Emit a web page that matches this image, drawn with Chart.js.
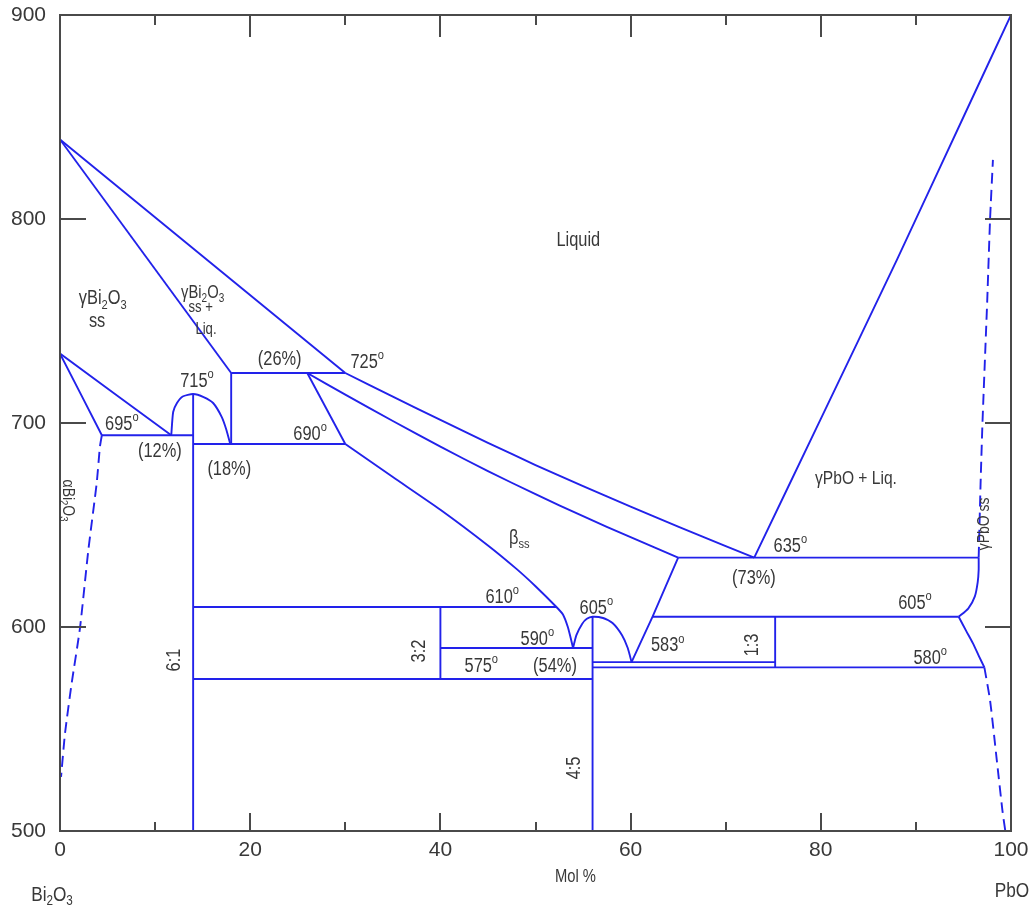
<!DOCTYPE html>
<html>
<head>
<meta charset="utf-8">
<script src="https://cdn.jsdelivr.net/npm/chart.js@4.4.1/dist/chart.umd.min.js"></script>
<style>
  html, body { margin: 0; padding: 0; background: #fff; }
  #wrap { width: 1033px; height: 911px; }
</style>
</head>
<body>
<div id="wrap"><canvas id="phaseChart" width="1033" height="911"></canvas></div>
<script>
// Bi2O3 - PbO phase diagram (x = mol % PbO, y = deg C)

// liquidus / solidus of the gamma-Bi2O3 side
const liquidusBi   = [[0, 839], [30, 724.5]];
const solidusGamma = [[0, 839], [18, 724.5]];
const line725      = [[18, 724.5], [30, 724.5]];
const vert18       = [[18, 724.5], [18, 689.7]];
const liquidusMid  = [[30, 724.5], [35, 712.9], [40, 701.5], [45, 690.3], [50, 679.4], [55, 669], [60, 659], [65, 649.2], [70, 639.6], [73, 634]];
const betaUpper    = [[26, 724.5], [30, 713.9], [35, 701], [40, 688.4], [45, 676.4], [50, 665.1], [55, 654.3], [60, 644], [65, 634]];
const betaLowerTop = [[26, 724.5], [30, 689.7]];
const betaLower    = [[30, 689.7], [35, 673.5], [40, 657.5], [45, 640], [48, 628.5], [50, 620], [52.2, 609.8], [52.9, 606], [53.4, 600], [53.7, 594.6], [53.95, 589.7]];
const dome605      = [[53.95, 589.7], [54.3, 596], [54.9, 601.5], [55.4, 604], [56, 605], [57.1, 604.4], [58.1, 602], [59.1, 596], [59.7, 589.7], [60.1, 582.8]];
const riseRight    = [[60.1, 582.8], [62.3, 605], [65, 634]];
const line635      = [[65, 634], [96.6, 634]];
const liquidusPbO  = [[73, 634], [80, 702], [88, 780], [95, 850], [100, 900]];

// gamma-Bi2O3 eutectoid corner
const eutLeftA = [[0, 734], [4.4, 694]];
const eutLeftB = [[0, 734], [11.7, 694]];
const line695  = [[4.4, 694], [14, 694]];
const line690  = [[14, 689.7], [30, 689.7]];
const dome715  = [[11.7, 694], [11.9, 705.4], [12.3, 709.8], [12.9, 713], [14, 714.2], [15.1, 712.7], [16.1, 709.8], [17, 703], [17.5, 696.6], [17.9, 689.7]];

// compounds and invariant lines
const comp61  = [[14, 714.2], [14, 500]];
const line610 = [[14, 609.8], [52.2, 609.8]];
const comp32  = [[40, 609.8], [40, 574.5]];
const line590 = [[40, 589.7], [56, 589.7]];
const line575 = [[14, 574.5], [56, 574.5]];
const comp45  = [[56, 605], [56, 500]];
const line583 = [[56, 582.8], [75.2, 582.8]];
const line580 = [[56, 580.2], [97.2, 580.2]];
const comp13  = [[75.2, 605], [75.2, 580.2]];
const line605 = [[62.3, 605], [94.5, 605]];

// gamma-PbO solid solution edges
const pbSsUpper = [[94.5, 605], [95.5, 609], [96.2, 615], [96.5, 622], [96.6, 628], [96.6, 634]];
const pbSsLower = [[94.5, 605], [95.3, 598], [96, 592], [96.6, 586], [97.2, 580.2]];

// dashed (estimated) boundaries
const biSsDash      = [[4.4, 694], [4.2, 688.4], [3.86, 670.6], [2.98, 637.7], [2.1, 599.5], [1.23, 572.5], [0.53, 548], [0.11, 526.5]];
const pbSsUpperDash = [[96.6, 634], [96.8, 670], [97, 700], [97.5, 760], [97.8, 800], [98.1, 829]];
const pbSsLowerDash = [[97.2, 580.2], [97.8, 564], [98.5, 535], [99.1, 510], [99.4, 500]];

// axes
const xRange = [0, 100];
const yRange = [500, 900];
const xMajorTicks = [20, 40, 60, 80];
const xMinorTicks = [10, 30, 50, 70, 90];
const yTicks = [600, 700, 800];

// text in the diagram: [text, x, y, size, rotation]   ^{..} superscript, _{..} subscript
const diagramLabels = [
    ['Liquid', 54.5, 789.7, 20, 0],
    ['γBi_{2}O_{3}', 4.5, 760.8, 20, 0],
    ['ss', 3.9, 749.8, 20, 0],
    ['γBi_{2}O_{3}', 15.0, 763.5, 18, 0],
    ['ss +', 14.8, 756.6, 16, 0],
    ['Liq.', 15.35, 746, 16, 0],
    ['(26%)', 23.1, 731.1, 20, 0],
    ['725^{o}', 32.3, 729.9, 20, 0],
    ['715^{o}', 14.4, 720.3, 20, 0],
    ['695^{o}', 6.5, 699.5, 20, 0],
    ['(12%)', 10.5, 686, 20, 0],
    ['690^{o}', 26.3, 694.6, 20, 0],
    ['(18%)', 17.8, 677.2, 20, 0],
    ['β_{ss}', 48.3, 643.4, 20, 0],
    ['610^{o}', 46.5, 614.5, 20, 0],
    ['605^{o}', 56.4, 609.1, 20, 0],
    ['590^{o}', 50.2, 594.1, 20, 0],
    ['(54%)', 52.05, 580.6, 20, 0],
    ['575^{o}', 44.3, 580.6, 20, 0],
    ['583^{o}', 63.9, 590.7, 20, 0],
    ['635^{o}', 76.8, 639.7, 20, 0],
    ['(73%)', 72.97, 624, 20, 0],
    ['605^{o}', 89.9, 611.3, 20, 0],
    ['580^{o}', 91.5, 584.8, 20, 0],
    ['γPbO + Liq.', 83.7, 672.5, 19, 0],
    ['6:1', 12.04, 583.8, 20, -90],
    ['3:2', 37.85, 588.2, 20, -90],
    ['4:5', 54.05, 530.9, 20, -90],
    ['1:3', 72.8, 591.2, 20, -90],
    ['γPbO ss', 97.2, 650.5, 17, -90],
    ['αBi_{2}O_{3}', 0.85, 662, 17, 90]
];

const BLUE = 'rgb(34, 34, 234)';
const TEXT = '#383838';
const AXIS = '#4a4a4a';
const FONT = "'Liberation Sans', Arial, sans-serif";
const NARROW = 0.82;   // the picture's lettering is condensed

function toXY(pts) {
    return pts.map(p => ({ x: p[0], y: p[1] }));
}

function lineSet(pts, dashed) {
    return {
        data: toXY(pts),
        showLine: true,
        pointRadius: 0,
        borderColor: BLUE,
        borderWidth: 1.9,
        borderDash: dashed ? [11, 6] : [],
        tension: 0.2,
        fill: false
    };
}

const solidLines = [
    liquidusBi, solidusGamma, line725, vert18, liquidusMid, betaUpper, betaLowerTop, betaLower,
    dome605, riseRight, line635, liquidusPbO, eutLeftA, eutLeftB, line695, line690, dome715,
    comp61, line610, comp32, line590, line575, comp45, line583, line580, comp13, line605,
    pbSsUpper, pbSsLower
];
const dashedLines = [biSsDash, pbSsUpperDash, pbSsLowerDash];

// draws text with ^{sup} and _{sub} parts, centred on (x, y)
function drawRich(ctx, text, x, y, size, rot) {
    const parts = [];
    text.replace(/\^\{([^}]*)\}|_\{([^}]*)\}|([^\^_]+)/g, function(m, sup, sub, norm) {
        if (sup !== undefined) parts.push([sup, 'sup']);
        else if (sub !== undefined) parts.push([sub, 'sub']);
        else parts.push([norm, 'n']);
    });
    let total = 0;
    parts.forEach(p => {
        const s = p[1] === 'n' ? size : size * 0.68;
        ctx.font = s + 'px ' + FONT;
        p.push(s, ctx.measureText(p[0]).width);
        total += p[3];
    });
    ctx.save();
    ctx.translate(x, y);
    if (rot) ctx.rotate(rot * Math.PI / 180);
    ctx.scale(NARROW, 1);
    ctx.textBaseline = 'middle';
    ctx.textAlign = 'left';
    ctx.fillStyle = TEXT;
    let cx = -total / 2;
    parts.forEach(p => {
        ctx.font = p[2] + 'px ' + FONT;
        let dy = 0;
        if (p[1] === 'sup') dy = -size * 0.36;
        if (p[1] === 'sub') dy = size * 0.3;
        ctx.fillText(p[0], cx, dy);
        cx += p[3];
    });
    ctx.restore();
}

// frame with inward ticks on all four sides, plus the texts
const framePlugin = {
    id: 'frame',
    afterDatasetsDraw(chart) {
        const ctx = chart.ctx;
        const xs = chart.scales.x, ys = chart.scales.y;
        const a = chart.chartArea;
        ctx.save();
        ctx.strokeStyle = AXIS;
        ctx.lineWidth = 2;
        ctx.strokeRect(a.left, a.top, a.right - a.left, a.bottom - a.top);
        ctx.beginPath();
        xMajorTicks.forEach(v => {
            const px = Math.round(xs.getPixelForValue(v));
            ctx.moveTo(px, a.bottom); ctx.lineTo(px, a.bottom - 18);
            ctx.moveTo(px, a.top); ctx.lineTo(px, a.top + 22);
        });
        xMinorTicks.forEach(v => {
            const px = Math.round(xs.getPixelForValue(v));
            ctx.moveTo(px, a.bottom); ctx.lineTo(px, a.bottom - 9);
            ctx.moveTo(px, a.top); ctx.lineTo(px, a.top + 10);
        });
        yTicks.forEach(v => {
            const py = Math.round(ys.getPixelForValue(v));
            ctx.moveTo(a.left, py); ctx.lineTo(a.left + 26, py);
            ctx.moveTo(a.right, py); ctx.lineTo(a.right - 26, py);
        });
        ctx.stroke();
        ctx.restore();

        diagramLabels.forEach(l => {
            drawRich(ctx, l[0], xs.getPixelForValue(l[1]), ys.getPixelForValue(l[2]), l[3], l[4]);
        });

        // axis captions under the x axis
        drawRich(ctx, 'Mol %', xs.getPixelForValue(54.2), a.bottom + 46, 18, 0);
        drawRich(ctx, 'Bi_{2}O_{3}', a.left - 8, a.bottom + 64, 21, 0);
        drawRich(ctx, 'PbO', a.right + 1, a.bottom + 60, 21, 0);
    }
};

const ctx = document.getElementById('phaseChart').getContext('2d');
new Chart(ctx, {
    type: 'scatter',
    data: {
        datasets: solidLines.map(p => lineSet(p, false)).concat(dashedLines.map(p => lineSet(p, true)))
    },
    options: {
        responsive: false,
        animation: false,
        events: [],
        layout: { padding: 0 },
        plugins: {
            legend: { display: false },
            tooltip: { enabled: false }
        },
        scales: {
            x: {
                type: 'linear',
                min: xRange[0], max: xRange[1],
                grid: { display: false, drawTicks: false },
                border: { display: false },
                ticks: {
                    stepSize: 20, maxRotation: 0, autoSkip: false, padding: 7,
                    color: TEXT, font: { family: FONT, size: 21 }
                },
                afterFit: s => { s.height = 80; s.paddingLeft = 0; s.paddingRight = 22; }
            },
            y: {
                type: 'linear',
                min: yRange[0], max: yRange[1],
                grid: { display: false, drawTicks: false },
                border: { display: false },
                ticks: {
                    stepSize: 100, autoSkip: false, padding: 14,
                    color: TEXT, font: { family: FONT, size: 21 }
                },
                afterFit: s => { s.width = 60; s.paddingTop = 15; s.paddingBottom = 0; }
            }
        }
    },
    plugins: [framePlugin]
});
</script>
</body>
</html>
